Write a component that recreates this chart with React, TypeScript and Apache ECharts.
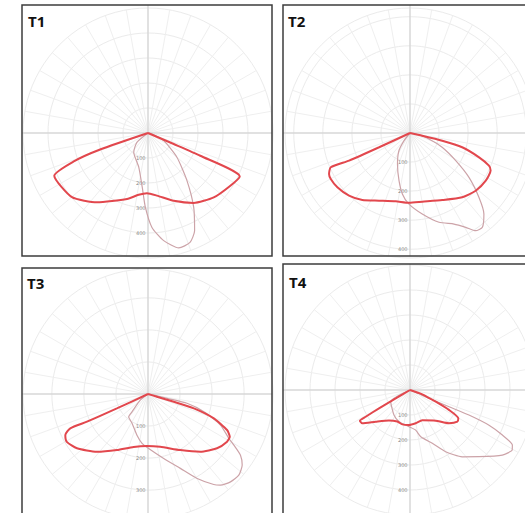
import React, { useEffect, useRef } from "react";
import * as echarts from "echarts";

// Panel titles and radial scale (cd/klm) of each diagram
const panelTitles = ["T1", "T2", "T3", "T4"];
const radiusMax = [500, 430, 390, 500];
const radiusStep = 100;

// Curves: [gamma angle in degrees (0 = straight down, negative = left), intensity]
const t1Red = [[-90, 0], [-71, 200], [-69, 320], [-65.5, 412], [-49.8, 398], [-36.3, 344], [-17.6, 277], [-8.6, 250], [-1, 241], [8.2, 253], [20.8, 290], [33.1, 334], [45.6, 368], [57.4, 391], [64.7, 406], [66.5, 228], [66.8, 112], [90, 0]];
const t1Pink = [[-90, 0], [-50, 58], [-36.5, 96], [-15, 142], [-6, 219], [-2, 298], [2.4, 378], [8.3, 435], [15, 476], [21, 469], [25.5, 433], [31.6, 349], [39.3, 246], [50, 151], [64, 70], [76, 16], [90, 0]];

const t2Red = [[-90, 0], [-65.2, 117], [-65.6, 230], [-66.6, 297], [-63.2, 312], [-59.9, 315], [-53.2, 312], [-44.2, 301], [-35.4, 283], [-24.6, 256], [-11.8, 240], [-0.8, 240], [10.2, 240], [25.7, 256], [39.1, 285], [48.7, 301], [57.8, 308], [65, 306], [67.5, 294], [70.6, 252], [74.7, 186], [76.6, 114], [77.6, 43], [90, 0]];
const t2Pink = [[-90, 0], [-38, 33], [-32, 72], [-22, 115], [-13, 168], [-7, 212], [-1, 244], [8.6, 282], [18, 323], [25.8, 348], [30.6, 377], [33.9, 405], [37.5, 409], [42.4, 377], [47, 324], [53, 254], [58.8, 184], [66, 121], [72.5, 68], [80, 20], [90, 0]];

const t3Red = [[-90, 0], [-65.2, 107], [-65.6, 209], [-66.2, 265], [-63.6, 288], [-59.5, 294], [-52.6, 279], [-41.5, 241], [-29, 200], [-15.2, 171], [-1, 162], [13, 169], [30, 202], [42.2, 243], [51.8, 274], [58.9, 288], [62.4, 288], [65.5, 271], [69.7, 219], [72.6, 150], [73.3, 84], [73.3, 29], [90, 0]];
const t3Pink = [[-90, 0], [-52, 30], [-42, 74], [-40.4, 93], [-28.6, 104], [-15, 133], [-6.9, 155], [0.7, 170], [13.7, 207], [23.5, 253], [30.2, 305], [36, 349], [38.5, 363], [43.2, 376], [48.2, 380], [53, 368], [56.5, 346], [59.2, 312], [61.2, 288], [66.8, 246], [72.4, 183], [76.6, 125], [77.3, 61], [80, 18], [90, 0]];

const t4Red = [[-90, 0], [-59.9, 66], [-59.4, 144], [-58.9, 207], [-58.5, 235], [-55.1, 233], [-47.3, 187], [-34.7, 148], [-21.8, 136], [-12.6, 141], [-1.6, 140], [9.7, 135], [22.1, 131], [39.9, 160], [49.5, 205], [56.2, 228], [59.6, 224], [62.9, 175], [65.5, 113], [70.7, 52], [90, 0]];
const t4Pink = [[-90, 0], [-58.8, 90], [-32.6, 119], [-19, 134], [-1.6, 147], [8, 162], [13, 192], [22.7, 231], [30, 285], [38, 339], [46, 384], [54.8, 452], [59.6, 474], [61.7, 465], [64, 411], [66, 346], [67, 256], [66.8, 170], [66.4, 83], [68, 24], [90, 0]];

const redCurves = [t1Red, t2Red, t3Red, t4Red];
const pinkCurves = [t1Pink, t2Pink, t3Pink, t4Pink];

export default function App() {
  const ref = useRef<HTMLDivElement>(null);

  useEffect(() => {
    const chart = echarts.init(ref.current!, null, { renderer: "svg" });
    const centers = [[148, 133], [410, 133], [148, 394], [410, 390]];
    const boxes = [[22, 5, 250, 251], [283, 5, 250, 251], [22, 268, 250, 260], [283, 264, 250, 260]];
    const titlePos = [[28, 13], [288, 13], [27, 275], [289, 274]];
    const toPolar = (arr: number[][]) =>
      arr.map(([a, v]) => [v, a < 0 ? a + 360 : a]);

    const graphics: any[] = [];
    boxes.forEach(([x, y, w, h], i) => {
      const [cx, cy] = centers[i];
      graphics.push({
        type: "line", z: 1, silent: true,
        shape: { x1: x, y1: cy, x2: x + w, y2: cy },
        style: { stroke: "#cbcbcb", lineWidth: 1 },
      });
      graphics.push({
        type: "line", z: 1, silent: true,
        shape: { x1: cx, y1: y, x2: cx, y2: y + h },
        style: { stroke: "#cbcbcb", lineWidth: 1 },
      });
      graphics.push({
        type: "rect", z: 10, silent: true,
        shape: { x, y, width: w, height: h },
        style: { fill: "none", stroke: "#3c3c3c", lineWidth: 1.5 },
      });
    });

    const series: any[] = [];
    panelTitles.forEach((_, i) => {
      series.push({
        type: "line", coordinateSystem: "polar", polarIndex: i,
        data: toPolar(pinkCurves[i]), symbol: "none", z: 3, smooth: 0.2,
        lineStyle: { color: "#cca3a8", width: 1.2 },
      });
      series.push({
        type: "line", coordinateSystem: "polar", polarIndex: i,
        data: toPolar(redCurves[i]), symbol: "none", z: 4, smooth: 0.2,
        lineStyle: { color: "#e2474d", width: 2 },
      });
    });

    chart.setOption({
      animation: false,
      backgroundColor: "#ffffff",
      title: panelTitles.map((t, i) => ({
        text: t, left: titlePos[i][0], top: titlePos[i][1], padding: 0,
        textStyle: { fontSize: 15, fontWeight: "bold", color: "#111", fontFamily: "Open Sans" },
      })),
      polar: centers.map((c) => ({ center: c, radius: 125 })),
      angleAxis: panelTitles.map((_, i) => ({
        polarIndex: i, type: "value", min: 0, max: 360, interval: 10,
        startAngle: -90, clockwise: false,
        axisLine: { show: false }, axisTick: { show: false }, axisLabel: { show: false },
        splitLine: { show: true, lineStyle: { color: "#efefef", width: 1 } },
      })),
      radiusAxis: panelTitles.map((_, i) => ({
        polarIndex: i, type: "value", min: 0, max: radiusMax[i], interval: radiusStep,
        axisLine: { show: false }, axisTick: { show: false },
        axisLabel: {
          show: true, fontSize: 5, color: "#8a8a8a", showMinLabel: false, showMaxLabel: false,
          margin: -12, fontFamily: "DejaVu Sans",
        },
        splitLine: { show: true, lineStyle: { color: "#ebebeb", width: 1 } },
      })),
      series,
      graphic: graphics,
    });
    return () => chart.dispose();
  }, []);

  return (
    <div
      ref={ref}
      style={{ position: "fixed", left: 0, top: 0, width: 525, height: 513, background: "#fff" }}
    />
  );
}
